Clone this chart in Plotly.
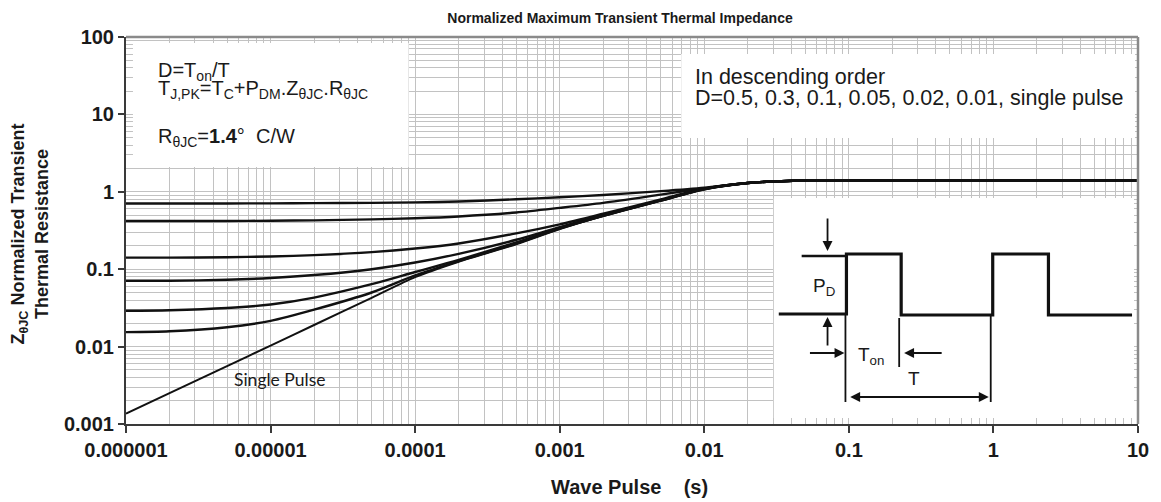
import plotly.graph_objects as go

# ---------------- data ----------------
pulse_s = [1e-6, 2e-6, 5e-6, 1e-5, 2e-5, 5e-5, 1e-4, 2e-4, 5e-4, 1e-3, 2e-3,
           5e-3, 1e-2, 2e-2, 5e-2, 1e-1, 1, 10]
d_050 = [0.706, 0.706, 0.707, 0.709, 0.713, 0.720, 0.730, 0.750, 0.800, 0.850, 0.910,
         1.02, 1.13, 1.30, 1.40, 1.40, 1.40, 1.40]
d_030 = [0.420, 0.420, 0.420, 0.423, 0.428, 0.440, 0.455, 0.480, 0.540, 0.620, 0.720,
         0.92, 1.11, 1.30, 1.40, 1.40, 1.40, 1.40]
d_010 = [0.141, 0.141, 0.143, 0.146, 0.152, 0.166, 0.185, 0.215, 0.290, 0.380, 0.520,
         0.80, 1.10, 1.30, 1.40, 1.40, 1.40, 1.40]
d_005 = [0.071, 0.071, 0.073, 0.077, 0.084, 0.100, 0.122, 0.158, 0.240, 0.350, 0.500,
         0.78, 1.09, 1.30, 1.40, 1.40, 1.40, 1.40]
d_002 = [0.029, 0.0295, 0.0315, 0.035, 0.043, 0.064, 0.092, 0.132, 0.222, 0.340, 0.490,
         0.77, 1.08, 1.30, 1.40, 1.40, 1.40, 1.40]
d_001 = [0.0154, 0.0158, 0.0178, 0.0215, 0.030, 0.050, 0.083, 0.127, 0.215, 0.335, 0.490,
         0.77, 1.08, 1.30, 1.40, 1.40, 1.40, 1.40]
single_pulse = [0.00136, 0.0025, 0.0056, 0.0103, 0.019, 0.0426, 0.079, 0.125, 0.210, 0.330,
                0.490, 0.77, 1.08, 1.30, 1.40, 1.40, 1.40, 1.40]

x_tickvals = [1e-6, 1e-5, 1e-4, 1e-3, 1e-2, 1e-1, 1, 10]
x_ticktext = ["0.000001", "0.00001", "0.0001", "0.001", "0.01", "0.1", "1", "10"]
y_tickvals = [0.001, 0.01, 0.1, 1, 10, 100]
y_ticktext = ["0.001", "0.01", "0.1", "1", "10", "100"]

# ---------------- layout helpers (pixel -> paper) ----------------
W, H = 1161, 502
L, R, T, B = 126, 1143, 37, 424


def px(x):
    return (x - L) / (R - L)


def py(y):
    return (B - y) / (B - T)


FONT = "Liberation Sans, Arial, sans-serif"
TXT = "#1a1a1a"
GRID = "#c2c2c2"

fig = go.Figure()

series = [d_050, d_030, d_010, d_005, d_002, d_001]
for s in series:
    fig.add_trace(go.Scatter(x=pulse_s, y=s, mode="lines",
                             line=dict(color="#111111", width=2.4, shape="spline", smoothing=0.8),
                             hoverinfo="skip", showlegend=False))
fig.add_trace(go.Scatter(x=pulse_s, y=single_pulse, mode="lines",
                         line=dict(color="#111111", width=2.0, shape="spline", smoothing=0.8),
                         hoverinfo="skip", showlegend=False))

fig.update_layout(
    width=W, height=H,
    margin=dict(l=L, r=W - R, t=T, b=H - B),
    paper_bgcolor="white", plot_bgcolor="white",
    showlegend=False,
    title=dict(text="<b>Normalized Maximum Transient Thermal Impedance</b>",
               x=620 / W, xanchor="center", y=1 - 18 / H, yanchor="middle",
               font=dict(family=FONT, size=14, color=TXT)),
)

fig.update_xaxes(type="log", range=[-6, 1], tickvals=x_tickvals, ticktext=x_ticktext,
                 showgrid=True, gridcolor=GRID, gridwidth=1,
                 minor=dict(dtick="D1", showgrid=True, gridcolor=GRID, gridwidth=1, ticks=""),
                 showline=True, linecolor="#3a3a3a", linewidth=2,
                 ticks="outside", ticklen=7, tickwidth=1.5, tickcolor="#3a3a3a",
                 tickfont=dict(family=FONT, size=20, color=TXT, weight="bold"),
                 zeroline=False)
fig.update_yaxes(type="log", range=[-3, 2], tickvals=y_tickvals, ticktext=y_ticktext,
                 showgrid=True, gridcolor=GRID, gridwidth=1,
                 minor=dict(dtick="D1", showgrid=True, gridcolor=GRID, gridwidth=1, ticks=""),
                 showline=True, linecolor="#3a3a3a", linewidth=2,
                 ticks="outside", ticklen=6, tickwidth=1.5, tickcolor="#3a3a3a",
                 tickfont=dict(family=FONT, size=20, color=TXT, weight="bold"),
                 zeroline=False)

shapes = []
# white text boxes hiding the grid
for (x0, y0, x1, y1) in [(133, 43, 410, 167), (684, 54, 1140, 138), (777, 198, 1139, 418)]:
    shapes.append(dict(type="rect", xref="paper", yref="paper",
                       x0=px(x0), x1=px(x1), y0=py(y1), y1=py(y0),
                       fillcolor="white", line=dict(width=0), layer="above"))
# top and right frame (gray)
shapes.append(dict(type="line", xref="paper", yref="paper", x0=0, x1=1, y0=1, y1=1,
                   line=dict(color="#8a8a8a", width=2.5), layer="above"))
shapes.append(dict(type="line", xref="paper", yref="paper", x0=1, x1=1, y0=0, y1=1,
                   line=dict(color="#8a8a8a", width=2.5), layer="above"))


def path(points):
    s = "M {} {}".format(px(points[0][0]), py(points[0][1]))
    for (a, b) in points[1:]:
        s += " L {} {}".format(px(a), py(b))
    return s


# pulse waveform
wave = [(782, 314), (850, 314), (850, 254), (905, 254), (905, 315), (997, 315),
        (997, 254), (1053, 254), (1053, 315), (1137, 315)]
shapes.append(dict(type="path", xref="paper", yref="paper", path=path(wave),
                   line=dict(color="#111111", width=3.2), layer="above"))
shapes.append(dict(type="path", xref="paper", yref="paper", path=path([(805, 256), (850, 256)]),
                   line=dict(color="#111111", width=2.4), layer="above"))
for (xa, ya, yb) in [(849, 315, 402), (903, 318, 367), (995, 315, 402)]:
    shapes.append(dict(type="path", xref="paper", yref="paper", path=path([(xa, ya), (xa, yb)]),
                       line=dict(color="#111111", width=1.8), layer="above"))
fig.update_layout(shapes=shapes)

ann = []


def arrow(hx, hy, tx, ty, side="end"):
    ann.append(dict(xref="paper", yref="paper", x=px(hx), y=py(hy), ax=tx - hx, ay=ty - hy,
                    axref="pixel", ayref="pixel", text="", showarrow=True, arrowhead=2,
                    arrowsize=1.1, arrowwidth=1.8, arrowcolor="#111111", arrowside=side,
                    startarrowhead=2, startarrowsize=1.1, standoff=0, startstandoff=0))


arrow(831, 251, 831, 217)
arrow(831, 317, 831, 347)
arrow(848, 353, 812, 353)
arrow(908, 353, 947, 353)
arrow(993, 397, 853, 397, side="end+start")


def label(x, y, text, size=20, anchor="left", family=FONT, color=TXT):
    ann.append(dict(xref="paper", yref="paper", x=px(x), y=py(y), text=text, showarrow=False,
                    xanchor=anchor, yanchor="middle",
                    font=dict(family=family, size=size, color=color)))


label(827, 287, "P<sub>D</sub>", size=19, anchor="center")
label(875, 356, "T<sub>on</sub>", size=19, anchor="center")
label(918, 378, "T", size=19, anchor="center")

label(156, 71, "D=T<sub>on</sub>/T")
label(156, 90, "T<sub>J,PK</sub>=T<sub>C</sub>+P<sub>DM</sub>.Z<sub>θJC</sub>.R<sub>θJC</sub>")
label(156, 137, "R<sub>θJC</sub>=<b>1.4</b>°  C/W")
label(696, 77, "In descending order", size=21.5)
label(696, 98, "D=0.5, 0.3, 0.1, 0.05, 0.02, 0.01, single pulse", size=21.5)
label(280, 379, "Single Pulse", size=17.5, anchor="center", family="Lato, Open Sans, sans-serif")

# axis titles
label(632, 487, "<b>Wave Pulse \u00a0\u00a0\u00a0(s)</b>", size=20, anchor="center")
ann.append(dict(xref="paper", yref="paper", x=px(30), y=py(234),
                text="<b>Z<sub>θJC</sub> Normalized Transient<br>Thermal Resistance</b>",
                showarrow=False, textangle=-90, xanchor="center", yanchor="middle",
                font=dict(family=FONT, size=18, color=TXT)))

fig.update_layout(annotations=ann)

fig.write_html("out.html")
